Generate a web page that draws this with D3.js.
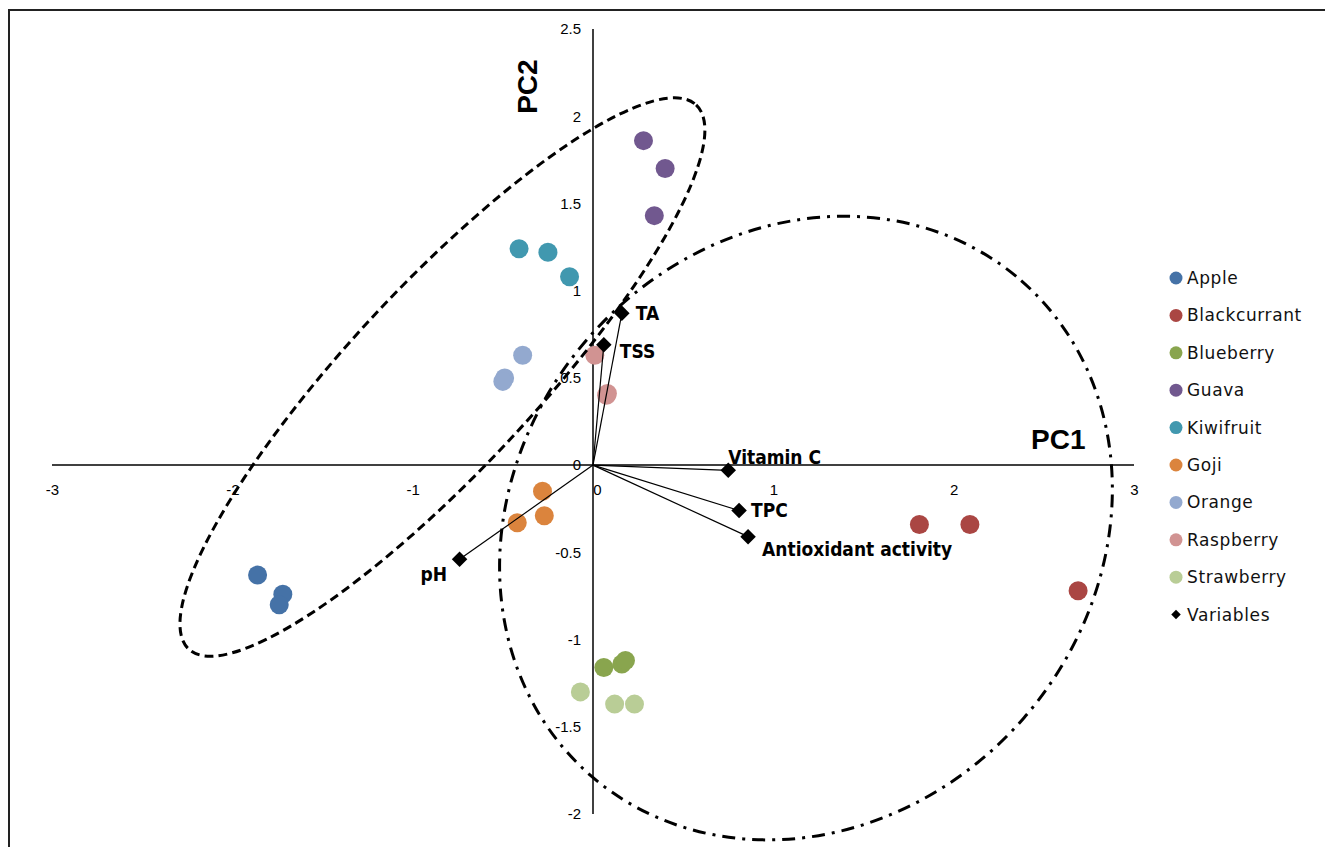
<!DOCTYPE html>
<html>
<head>
<meta charset="utf-8">
<script src="https://cdn.jsdelivr.net/npm/d3@7"></script>
<style>
  html, body { margin: 0; padding: 0; background: #fff; }
  svg { display: block; }
</style>
</head>
<body>
<svg id="chart" width="1325" height="847"></svg>
<script>
// ---------- data ----------
const categories = ["Apple", "Blackcurrant", "Blueberry", "Guava", "Kiwifruit", "Goji", "Orange", "Raspberry", "Strawberry"];
const seriesColors = ["#4572A7", "#AA4643", "#89A54E", "#71588F", "#4198AF", "#DB843D", "#93A9CF", "#D19392", "#B9CD96"];
const pc1Values = [
  [-1.86, -1.72, -1.74],
  [1.81, 2.09, 2.69],
  [0.06, 0.16, 0.18],
  [0.28, 0.40, 0.34],
  [-0.41, -0.25, -0.13],
  [-0.28, -0.27, -0.42],
  [-0.39, -0.49, -0.50],
  [0.01, 0.08, 0.075],
  [-0.07, 0.12, 0.23]
];
const pc2Values = [
  [-0.63, -0.74, -0.80],
  [-0.34, -0.34, -0.72],
  [-1.16, -1.14, -1.12],
  [1.86, 1.70, 1.43],
  [1.24, 1.22, 1.08],
  [-0.15, -0.29, -0.33],
  [0.63, 0.50, 0.48],
  [0.63, 0.41, 0.40],
  [-1.30, -1.37, -1.37]
];
const variableNames = ["TA", "TSS", "Vitamin C", "TPC", "Antioxidant activity", "pH"];
const variablePC1 = [0.16, 0.06, 0.75, 0.81, 0.86, -0.74];
const variablePC2 = [0.87, 0.69, -0.03, -0.26, -0.41, -0.54];
const xTicks = [-3, -2, -1, 0, 1, 2, 3];
const yTicks = [-2, -1.5, -1, -0.5, 0, 0.5, 1, 1.5, 2, 2.5];
const legendLabels = categories.concat(["Variables"]);

// ---------- layout ----------
const svg = d3.select("#chart");
const x = d3.scaleLinear().domain([-3, 3]).range([52, 1134]);
const y = d3.scaleLinear().domain([-2, 2.5]).range([814, 29]);

// outer frame
svg.append("rect").attr("x", 9).attr("y", 10).attr("width", 1340).attr("height", 860)
  .attr("fill", "none").attr("stroke", "#222").attr("stroke-width", 2);

const tickFont = "'Liberation Sans', Arial, sans-serif";
const fmt = d => String(d).replace("\u2212", "-");

// axes lines
svg.append("line").attr("x1", x(-3)).attr("x2", x(3)).attr("y1", y(0)).attr("y2", y(0))
  .attr("stroke", "#000").attr("stroke-width", 1.5);
svg.append("line").attr("x1", x(0)).attr("x2", x(0)).attr("y1", y(2.5)).attr("y2", y(-2))
  .attr("stroke", "#000").attr("stroke-width", 1.5);

// tick labels
const xAxis = d3.axisBottom(x).tickValues(xTicks).tickSize(0).tickPadding(19).tickFormat(fmt);
const gx = svg.append("g").attr("transform", `translate(0,${y(0)})`).call(xAxis);
gx.select(".domain").remove();
gx.selectAll("text").attr("font-family", tickFont).attr("font-size", 15).attr("fill", "#000")
  .attr("dx", d => d === 0 ? 4 : 0);

const yAxis = d3.axisLeft(y).tickValues(yTicks).tickSize(0).tickPadding(12).tickFormat(fmt);
const gy = svg.append("g").attr("transform", `translate(${x(0)},0)`).call(yAxis);
gy.select(".domain").remove();
gy.selectAll("text").attr("font-family", tickFont).attr("font-size", 15).attr("fill", "#000");

// axis titles
svg.append("text").attr("x", x(2.58)).attr("y", y(0.09))
  .attr("text-anchor", "middle").attr("font-family", "Liberation Sans, Arial, sans-serif")
  .attr("font-weight", "bold").attr("font-size", 28).text("PC1");
svg.append("text")
  .attr("transform", `translate(${x(-0.31)},${y(2.17)}) rotate(-90)`)
  .attr("text-anchor", "middle").attr("font-family", "Liberation Sans, Arial, sans-serif")
  .attr("font-weight", "bold").attr("font-size", 28).text("PC2");

// points
categories.forEach((c, i) => {
  const pts = pc1Values[i].map((v, j) => [v, pc2Values[i][j]]);
  svg.append("g").selectAll("circle").data(pts).join("circle")
    .attr("cx", d => x(d[0])).attr("cy", d => y(d[1])).attr("r", 9.5)
    .attr("fill", seriesColors[i]);
});

// ellipses (annotations)
function drawEllipse(cxv, cyv, rx, ry, angle, dash) {
  const cx = x(cxv), cy = y(cyv);
  svg.append("ellipse").attr("cx", cx).attr("cy", cy).attr("rx", rx).attr("ry", ry)
    .attr("transform", `rotate(${angle} ${cx} ${cy})`)
    .attr("fill", "none").attr("stroke", "#000").attr("stroke-width", 3)
    .attr("stroke-dasharray", dash);
}
drawEllipse(-0.835, 0.505, 372, 92, -47, "9 5");
drawEllipse(1.181, -0.361, 328, 289, -49, "13 7 3 7");

// variable vectors
const vars = variableNames.map((n, i) => ({ name: n, px: variablePC1[i], py: variablePC2[i] }));
svg.append("g").selectAll("line").data(vars).join("line")
  .attr("x1", x(0)).attr("y1", y(0)).attr("x2", d => x(d.px)).attr("y2", d => y(d.py))
  .attr("stroke", "#000").attr("stroke-width", 1.2);
svg.append("g").selectAll("path").data(vars).join("path")
  .attr("d", d3.symbol().type(d3.symbolSquare).size(120))
  .attr("transform", d => `translate(${x(d.px)},${y(d.py)}) rotate(45)`)
  .attr("fill", "#000");

// variable labels
const labelOffsets = {
  "TA": [14, 7, "start"],
  "TSS": [16, 13, "start"],
  "Vitamin C": [0, -6, "start"],
  "TPC": [12, 7, "start"],
  "Antioxidant activity": [14, 19, "start"],
  "pH": [-39, 22, "start"]
};
svg.append("g").selectAll("text").data(vars).join("text")
  .attr("x", d => x(d.px) + labelOffsets[d.name][0])
  .attr("y", d => y(d.py) + labelOffsets[d.name][1])
  .attr("text-anchor", d => labelOffsets[d.name][2])
  .attr("font-family", "'Liberation Sans Narrow', 'DejaVu Sans Condensed', sans-serif")
  .attr("font-weight", "bold").attr("font-size", 19).attr("fill", "#000")
  .text(d => d.name);

// legend
const legend = svg.append("g").attr("transform", "translate(1176,278)");
const rows = legend.selectAll("g").data(legendLabels).join("g")
  .attr("transform", (d, i) => `translate(0,${i * 37.4})`);
rows.each(function(d, i) {
  const g = d3.select(this);
  if (i < categories.length) {
    g.append("circle").attr("r", 6.5).attr("fill", seriesColors[i]);
  } else {
    g.append("path").attr("d", d3.symbol().type(d3.symbolSquare).size(45)).attr("transform", "rotate(45)").attr("fill", "#000");
  }
  g.append("text").attr("x", 11).attr("y", 6).attr("font-family", "'DejaVu Sans', Verdana, sans-serif")
    .attr("font-size", 17).attr("letter-spacing", 0.6).attr("fill", "#111").text(d);
});
</script>
</body>
</html>
